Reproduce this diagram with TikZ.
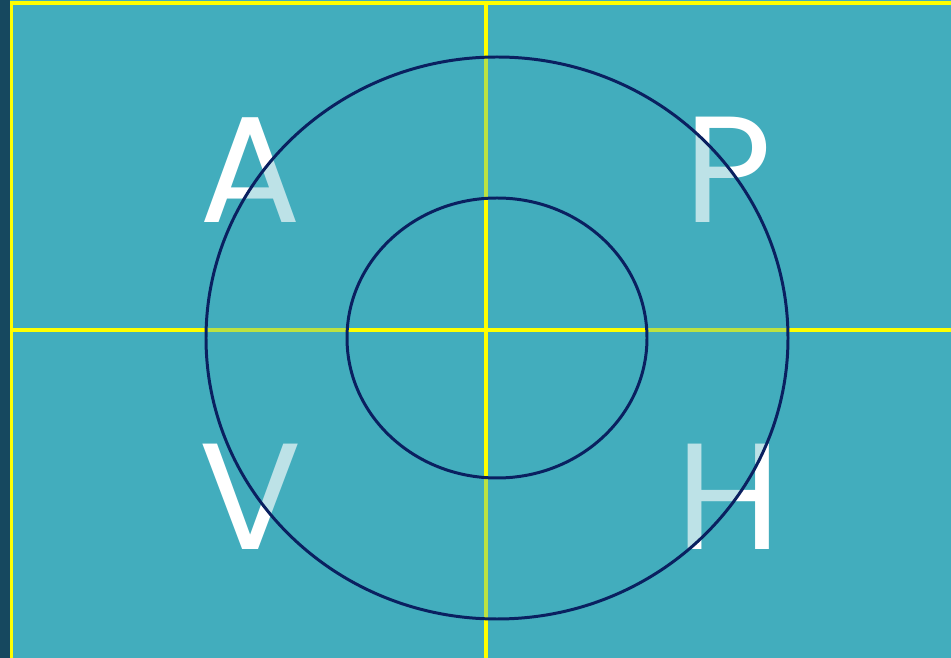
\documentclass[tikz,border=0pt]{standalone}
\usepackage{fontspec}
\setmainfont{Poppins}
\usepackage{xcolor}
\usetikzlibrary{positioning}
\definecolor{tealbg}{RGB}{66,173,189}
\definecolor{darkstrip}{RGB}{22,72,95}
\definecolor{gridyellow}{RGB}{255,255,0}
\definecolor{ringnavy}{RGB}{10,32,96}

\begin{document}
\begin{tikzpicture}[x=0.01cm,y=-0.01cm,
  letter/.style={text=white,font=\fontsize{43}{43}\selectfont,inner sep=0pt},
  grid/.style={gridyellow,line width=0.9pt},
  ring/.style={ringnavy,line width=0.85pt}]
\useasboundingbox (0,0) rectangle (951,658);
% Background
\fill[tealbg] (0,0) rectangle (951,658);
\fill[darkstrip] (0,0) rectangle (10,658);

% Quadrant lines
\draw[grid] (11.5,660) -- (11.5,3) -- (955,3);
\draw[grid] (486,3) -- (486,660);
\draw[grid] (11.5,330) -- (955,330);
\draw[grid,line width=0.4pt] (11.5,658.5) -- (955,658.5);

% Quadrant letters
\node[letter] (a) at (250,170) {A};
\node[letter] (p) at (728,170) {P};
\node[letter] (v) at (251,497) {V};
\node[letter] (h) at (729,497) {H};

% Ring overlay
\fill[tealbg,fill opacity=0.35,even odd rule]
  (497,338) ellipse [x radius=291,y radius=281]
  (497,338) ellipse [x radius=150,y radius=140];
\draw[ring] (497,338) ellipse [x radius=291,y radius=281];
\draw[ring] (497,338) ellipse [x radius=150,y radius=140];
\end{tikzpicture}
\end{document}
